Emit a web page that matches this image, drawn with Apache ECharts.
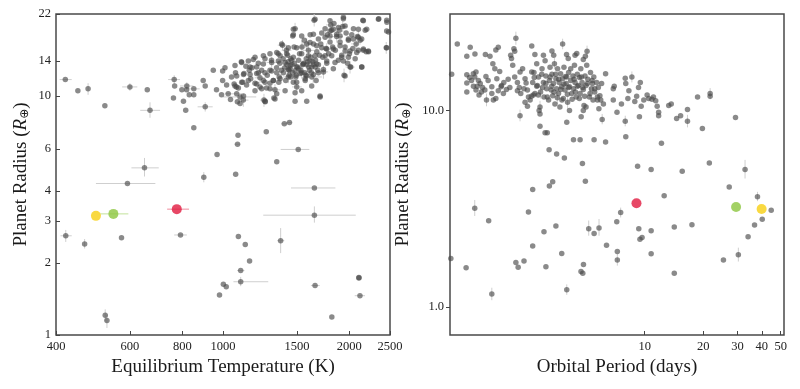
<!DOCTYPE html>
<html><head><meta charset="utf-8">
<script src="https://cdn.jsdelivr.net/npm/echarts@6/dist/echarts.min.js"></script>
<style>html,body{margin:0;padding:0;background:#fff}#c{width:800px;height:389px}</style>
</head><body><div id="c"></div>
<script>
// ---------- tick labels ----------
const leftXTicks = [400, 600, 800, 1000, 1500, 2000, 2500];
const leftYTicks = [1, 2, 3, 4, 6, 10, 14, 22];
const rightXTicks = [10, 20, 30, 40, 50];
const rightYTicks = [1, 10];

// ---------- left panel: [Teq (K), Radius (Re)] ----------
const leftPts = [
[421,11.7],[451,10.5],[477,10.7],[523,9.1],[600,10.9],[660,10.6],[670,8.7],
[765,11.7],[767,11.0],[762,9.8],[798,10.6],[805,9.5],[815,8.7],[820,11.0],[819,10.6],[831,10.1],[852,10.7],[852,10.1],[852,7.36],[897,11.6],[907,11.0],[907,9.0],
[948,12.8],[965,10.6],[998,12.7],[998,11.6],[1011,13.1],[1020,11.1],[1029,10.2],[1042,9.65],[1048,12.0],[1071,12.5],[1077,10.9],[1082,9.45],[1088,10.8],[1098,9.9],[1106,13.9],[1114,11.4],[1122,12.4],[1134,13.3],[1155,12.8],[1164,11.8],[1172,13.1],[1181,14.2],[1192,11.3],[1203,12.4],[1214,13.7],[1225,11.9],[1236,12.8],[1248,11.6],[1252,9.6],[1259,14.3],[1270,10.8],[1275,12.2],[1294,12.8],[1305,14.1],[1318,11.6],[1322,9.8],[1330,10.6],[1342,13.1],[1354,15.0],[1361,12.0],[1366,13.7],[1378,12.8],[1386,16.3],[1391,14.3],[1403,13.1],[1411,11.6],[1416,15.5],[1429,13.9],[1437,12.2],[1445,13.0],[1450,14.3],[1460,13.5],[1471,18.0],[1477,16.0],[1485,19.1],[1491,12.0],[1499,10.9],[1505,13.2],[1514,14.1],[1522,15.0],[1533,12.8],[1542,16.0],[1556,13.7],[1562,17.1],[1570,11.6],[1579,14.3],[1583,13.5],[1598,15.5],[1607,12.8],[1613,18.0],[1619,14.5],[1628,12.0],[1637,13.9],[1643,16.5],[1649,20.7],[1658,13.2],[1667,11.6],[1673,15.3],[1688,13.5],[1704,9.9],[1710,16.5],[1719,18.3],[1729,14.5],[1735,12.6],[1751,19.1],[1760,15.8],[1767,13.7],[1773,18.0],[1786,15.0],[1799,16.8],[1806,19.8],[1815,18.8],[1825,16.0],[1832,13.0],[1838,20.1],[1852,15.5],[1866,17.7],[1883,14.1],[1894,18.8],[1901,16.8],[1918,14.8],[1929,19.5],[1936,21.0],[1943,12.2],[1954,16.0],[1965,18.3],[1980,13.7],[1990,17.1],[2001,15.0],[2016,13.2],[2027,18.0],[2039,15.8],[2046,19.1],[2065,14.3],[2076,16.5],[2091,17.7],[2103,15.5],[2122,17.1],[2142,13.2],[2154,20.7],[2161,15.5],[2182,18.8],[2194,15.3],[2222,15.3],[2350,21.0],[2458,20.3],[2449,15.9],[2480,18.5],
[1420,13.5],[1437,12.8],[1457,14.1],[1466,12.5],[1479,13.7],[1494,12.2],[1514,13.0],[1527,12.4],[1547,13.5],[1565,12.5],[1576,12.2],[1592,13.9],[1601,13.2],[1622,12.5],[1643,13.5],[1661,14.1],[1682,12.8],[1698,14.8],[1426,14.8],[1450,12.0],[1471,11.4],[1358,11.4],[1294,11.3],[1225,10.9],[1138,11.1],[1063,11.2],[992,10.1],[1118,9.6],[1098,9.3],[1261,9.45],
[1657,20.9],[1799,20.6],[1936,21.3],[2160,20.6],[2346,20.9],[2455,20.7],[1832,19.0],[1884,19.3],[1954,19.6],[1799,18.7],[2102,19.0],[2200,19.0],[1471,19.0],[1466,17.8],[1540,17.8],[1642,18.1],[1688,17.3],[1751,17.6],[1799,17.8],[1866,18.1],[1901,17.8],[1990,17.3],[2045,17.3],[2102,17.6],[2140,17.3],[2455,18.7],[2455,15.9],
[1380,16.5],[1431,15.9],[1498,15.9],[1583,16.5],[1612,16.7],[1672,16.2],[1719,15.9],[1767,15.7],[1832,15.7],[1901,16.2],[1954,15.4],[2008,15.4],[2083,15.2],[2160,15.7],[2220,15.4],[1343,15.2],[1294,15.0],[1248,14.7],[1368,14.7],[1418,15.0],[1471,14.5],[1540,15.0],[1598,14.7],[1657,14.7],[1751,14.7],[1816,14.7],[1918,14.5],[1990,14.5],[1192,14.5],[1149,14.0],[1108,13.8],[1068,13.4],[1160,13.2],[1203,13.2],[1248,13.6],[1306,13.8],[1355,14.0],[1406,13.8],[1445,13.4],[1498,13.2],[1554,13.6],[1612,14.0],[1627,13.2],[1672,13.6],[1767,14.0],[1849,13.8],[1936,14.0],[2008,13.2],[2140,13.2],
[1078,12.1],[1119,12.3],[1160,12.3],[1214,12.5],[1259,12.5],[1306,12.7],[1343,12.5],[1393,12.5],[1431,12.9],[1485,12.7],[1540,12.5],[1583,12.1],[1642,12.3],[1688,12.5],[1735,12.9],[1954,12.1],[1068,11.0],[1108,11.4],[1149,11.6],[1203,11.2],[1259,11.4],[1318,11.6],[1368,11.8],[1431,12.0],[1498,11.4],[1569,11.8],[1627,11.0],[1078,10.2],[1119,10.0],[1192,10.5],[1236,10.7],[1294,10.7],[1343,10.2],[1406,10.5],[1485,10.3],[1540,10.5],[1703,10.0],[1259,9.5],[1330,9.7],[1485,9.5],[1583,9.5],
[968,5.69],[900,4.57],[1086,6.84],[1083,6.28],[1072,4.7],[1268,7.08],[1343,5.3],[1400,7.64],[1440,7.73],[1511,5.97],[1651,4.12],[1651,3.17],[592,4.3],[650,5.0],
[422,2.6],[468,2.4],[573,2.55],[792,2.62],[1088,2.58],[1130,2.39],[1157,2.04],[1102,1.86],[1102,1.67],[1002,1.63],[1018,1.59],[981,1.47],[1372,2.48],[1657,1.61],[1817,1.19],[2108,1.73],[2108,1.74],[2120,1.46],[524,1.21],[529,1.15]
];
// error bars: [T, R, Tlow, Thigh, Rlow, Rhigh]
const leftErr = [
[421,11.7,408,436,11.7,11.7],[477,10.7,477,477,10.1,11.3],[600,10.9,575,625,10.5,11.3],[670,8.7,635,708,8.1,9.4],
[592,4.3,498,690,4.3,4.3],[650,5.0,605,703,4.6,5.5],[1511,5.97,1372,1606,5.97,5.97],[1651,4.12,1452,1853,4.12,4.12],
[1651,3.17,1247,2072,2.95,3.45],[1372,2.48,1345,1400,2.2,2.8],[1102,1.67,1059,1282,1.6,1.75],[1657,1.61,1620,1700,1.61,1.61],
[2120,1.46,2060,2180,1.46,1.46],[524,1.21,524,524,1.14,1.28],[529,1.15,529,529,1.07,1.22],[422,2.6,410,436,2.45,2.75],
[468,2.4,468,468,2.3,2.52],[792,2.62,765,820,2.62,2.62],[1083,6.28,1065,1100,6.28,6.28],[900,4.57,900,900,4.35,4.8],
[1400,7.64,1375,1425,7.64,7.64],[1440,7.73,1418,1462,7.73,7.73],[1102,1.86,1080,1125,1.86,1.86],
[765,11.7,740,790,11.2,12.2],[852,10.7,825,880,10.7,10.7],[907,9.0,870,945,8.6,9.4],[1098,9.9,1000,1200,9.9,9.9],
[1118,9.6,1085,1150,9.0,10.2],[1252,9.6,1225,1280,9.0,10.2],[1499,10.9,1460,1540,10.4,11.5],[1704,9.9,1680,1730,9.9,9.9],
[1386,16.3,1350,1420,15.5,17.1],[1416,15.5,1380,1455,14.7,16.3],[1445,13.0,1380,1510,12.2,13.9],[1485,19.1,1460,1510,18.0,20.2],
[1542,16.0,1490,1600,15.0,17.0],[1598,15.5,1550,1650,14.6,16.5],[1649,20.7,1620,1680,19.5,22],[1735,12.6,1690,1780,11.8,13.4],
[1806,19.8,1760,1850,18.8,21],[1866,17.7,1800,1930,16.7,18.8],[1943,12.2,1943,1943,11.4,13.0],[1929,19.5,1880,1980,18.5,20.6],
[2076,16.5,2020,2130,15.6,17.4],[2449,15.9,2449,2449,15.0,16.8],[1330,10.6,1290,1370,10.0,11.2],[1225,11.9,1190,1260,11.3,12.5],
[1640,12,1560,1720,11.3,12.8],[1060,10.2,1010,1110,10.2,10.2],[820,11.0,790,850,10.6,11.4],
[1583,16.5,1540,1630,15.6,17.4],[1767,15.7,1720,1815,14.8,16.6],[1306,13.8,1270,1345,13.0,14.6],[2008,13.2,1960,2060,12.4,14.0],
[1540,12.5,1500,1580,11.8,13.3],[1954,15.4,1954,1954,14.5,16.4],[1431,12.0,1390,1470,11.3,12.7],[2102,17.6,2060,2150,16.6,18.6]
];
// highlighted planets (yellow, green, red)
const leftHighlights = [[498,3.15],[548,3.21],[776,3.36]];
const leftHighlightErr = [[498,3.15,498,498,3.15,3.15],[548,3.21,510,595,3.21,3.21],[776,3.36,736,830,3.36,3.36]];

// ---------- right panel: [Period (days), Radius (Re)] ----------
const rightPts = [
[1.02,15.3],[1.09,21.8],[1.27,21.0],[1.22,18.9],[1.22,15.2],[1.22,13.8],[1.22,12.4],
[2.18,23.3],[2.63,21.3],[3.79,21.8],[5.06,20.0],[4.96,18.9],
[1.343,19.4],[1.52,19.3],[1.605,18.9],[1.72,20.3],[1.77,21.0],[2.05,19.1],[2.13,20.6],[2.15,20.0],[2.73,19.3],[3.02,19.1],[3.34,20.1],[3.41,19.1],[3.97,19.3],[4.05,18.4],[4.39,19.1],[4.48,19.5],[4.84,18.2],
[1.318,15.4],[1.36,15.7],[1.34,14.8],[1.40,14.2],[1.43,13.7],[1.47,13.1],[1.51,12.7],[1.53,14.9],[1.57,14.2],[1.64,13.2],[1.66,17.3],[1.70,16.3],[1.74,14.5],[1.80,15.8],[1.84,13.4],[1.89,13.9],[1.95,12.8],[2.03,13.1],[2.07,18.4],[2.10,17.0],[2.15,14.8],[2.22,13.9],[2.27,13.1],[2.31,12.2],[2.36,16.3],[2.43,14.5],[2.50,12.7],[2.53,11.7],[2.58,11.3],[2.66,13.9],[2.70,15.6],[2.73,12.2],[2.79,17.3],[2.81,13.4],[2.85,14.8],[2.90,10.4],[2.92,12.4],[2.97,16.3],[3.02,13.9],[3.04,11.7],[3.08,17.9],[3.11,15.0],[3.14,12.9],[3.21,11.3],[3.24,14.2],[3.265,16.6],[3.31,12.7],[3.34,15.3],[3.37,11.9],[3.40,13.7],[3.44,17.3],[3.46,10.8],[3.50,14.5],[3.53,12.9],[3.57,16.3],[3.61,12.2],[3.64,13.9],[3.67,10.4],[3.70,15.4],[3.75,13.2],[3.79,14.5],[3.82,11.5],[3.85,16.6],[3.90,12.7],[3.95,13.7],[3.98,14.8],[4.02,11.0],[4.07,15.6],[4.11,13.2],[4.17,14.2],[4.22,12.2],[4.28,15.0],[4.31,12.9],[4.36,17.0],[4.39,13.9],[4.45,11.7],[4.51,15.3],[4.57,13.4],[4.63,14.7],[4.66,12.2],[4.70,16.3],[4.77,13.9],[4.84,12.8],[4.88,10.6],[4.94,15.0],[5.00,13.4],[5.04,17.0],[5.11,14.4],[5.20,11.7],[5.27,15.6],[5.33,12.9],[5.39,13.7],[5.43,11.3],[5.48,14.8],[5.54,12.4],[5.67,13.9],[5.72,11.7],[5.78,13.1],[5.82,10.2],[5.89,11.9],[5.95,11.3],[6.01,13.7],[6.14,10.8],[6.3,15.4],[6.9,12.9],[6.98,13.3],
[1.26,14.7],[1.29,14.2],[1.32,13.3],[1.36,12.7],[1.38,13.3],[1.41,12.0],[1.45,12.4],[1.54,11.3],[1.64,12.2],[1.67,11.3],[1.72,11.5],[1.77,12.6],[1.83,13.2],
[2.63,15.7],[2.71,14.7],[2.79,13.3],[2.84,12.0],[2.96,15.3],[2.99,13.1],[3.11,13.7],[3.16,11.7],[3.27,14.8],[3.33,13.3],[3.42,12.4],[3.49,15.3],[3.56,11.6],[3.62,14.4],[3.71,12.8],[3.76,11.3],[3.85,13.6],[3.92,14.9],[4.01,12.1],[4.07,13.1],[4.17,16.3],[4.24,11.4],[4.34,14.4],[4.41,12.4],[4.51,13.3],[4.62,11.5],[4.73,14.8],[4.81,13.1],[4.92,11.8],[5.08,13.7],[5.24,12.2],[5.37,14.2],[5.54,12.9],[5.72,11.3],[2.29,15.7],[2.40,12.9],[2.46,13.8],[2.22,12.6],[1.99,14.4],[1.88,12.2],
[2.29,9.4],[2.43,11.0],[2.50,10.5],[2.62,11.8],[2.68,12.0],[2.87,10.0],[2.90,9.6],[2.90,8.3],[3.08,7.7],[3.16,7.7],[3.23,6.3],[3.53,6.0],[3.87,5.72],[3.98,8.7],[4.11,10.0],[4.31,7.1],[4.66,7.1],[4.79,5.37],[4.72,9.3],[4.84,10.0],[5.00,10.4],[5.5,7.1],[6.05,9.0],[6.3,6.9],[6.9,11.3],[7.21,9.8],[7.6,10.8],[7.95,14.6],[8.0,13.7],[7.95,8.8],[8.0,7.34],[8.2,11.5],[8.3,12.6],[8.6,14.8],[8.9,11.1],[9.1,11.8],[9.3,13.1],[9.4,9.3],[9.5,13.9],[9.6,10.5],[9.9,11.3],[10.3,12.0],[10.5,11.5],[10.9,11.4],[11.1,11.7],[11.4,11.2],[11.6,10.5],[11.8,9.8],[11.8,9.4],[12.2,6.8],[13.3,10.6],[13.7,10.8],[14.6,9.1],[15.3,9.4],[16.6,10.1],[16.6,8.8],[18.7,11.7],[19.8,8.1],[21.7,11.8],[21.7,12.2],[29.3,9.2],[32.8,5.0],[21.5,5.4],[15.6,4.9],[10.8,5.0],[9.2,5.2],
[3.37,4.33],[3.24,4.12],[4.96,4.36],[2.66,3.96],[1.34,3.18],[2.53,3.04],[1.58,2.74],[2.66,2.04],[2.18,1.68],[2.24,1.59],[2.40,1.71],[3.04,2.41],[3.50,2.58],[3.11,1.60],[3.75,1.87],[3.98,1.22],[1.01,1.76],[1.21,1.58],[1.64,1.16],[4.71,1.51],[4.81,1.48],[4.85,1.64],[5.16,2.50],[5.50,2.36],[5.83,2.52],[6.37,2.06],[7.24,1.91],[7.24,1.73],[7.19,2.71],[7.53,3.02],[9.33,2.50],[9.46,2.21],[9.7,2.25],[10.8,2.44],[10.8,1.86],[12.6,3.68],[14.2,2.55],[14.2,1.48],[17.5,2.62],[25.4,1.73],[27.2,4.07],[30.3,1.84],[34.0,2.27],[36.7,2.61],[38.0,3.63],[40.2,2.79],[44.7,3.10]
];
const rightErr = [
[1.34,3.18,1.34,1.34,2.9,3.5],[1.64,1.16,1.64,1.64,1.08,1.25],[3.98,1.22,3.98,3.98,1.15,1.3],[30.3,1.84,30.3,30.3,1.7,2.0],
[32.8,5.0,32.8,32.8,4.5,5.6],[38.0,3.63,38.0,38.0,3.45,3.85],[2.29,9.4,2.29,2.29,8.8,10.1],[2.18,23.3,2.18,2.18,21.6,25.2],
[7.24,1.73,7.24,7.24,1.62,1.86],[5.16,2.50,5.16,5.16,2.3,2.75],[5.83,2.52,5.83,5.83,2.3,2.8],[7.95,8.8,7.95,7.95,8.3,9.4],
[1.54,11.3,1.54,1.54,10.5,12.2],[2.90,10.4,2.90,2.90,9.7,11.2],[3.79,21.8,3.79,3.79,20.5,23.2],[5.06,20.0,5.06,5.06,18.8,21.4],
[3.44,17.3,3.44,3.44,16.2,18.5],[8.6,14.8,8.6,8.6,13.9,15.8],[16.6,8.8,16.6,16.6,8.2,9.5],[21.7,12.2,21.7,21.7,11.4,13.0],
[2.92,12.4,2.92,2.92,11.5,13.3],[7.53,3.02,7.53,7.53,2.85,3.2],[4.02,11.0,4.02,4.02,10.2,11.8],[6.05,9.0,6.05,6.05,8.5,9.6],
[4.34,14.4,4.34,4.34,13.5,15.4],[3.56,11.6,3.56,3.56,10.8,12.5],[5.24,12.2,5.24,5.24,11.4,13.1]
];
const rightHighlights = [[39.9,3.15],[29.5,3.22],[9.08,3.37]];

const highlightColors = ['#f7cf12', '#8cc63e', '#e11a40'];
const highlightErrColors = ['#f7e07a', '#c3e29a', '#f08a9c'];

// ---------- build chart ----------
const FONT = 'Liberation Serif';
function errRender(colors) {
  return function (params, api) {
    const x = api.value(0), y = api.value(1);
    const xlo = api.value(2), xhi = api.value(3), ylo = api.value(4), yhi = api.value(5);
    const stroke = colors ? colors[params.dataIndex] : '#cfcfcf';
    const ch = [];
    if (xlo !== xhi) {
      const a = api.coord([xlo, y]), b = api.coord([xhi, y]);
      ch.push({type: 'line', shape: {x1: a[0], y1: a[1], x2: b[0], y2: b[1]}, style: {stroke, lineWidth: 1}});
    }
    if (ylo !== yhi) {
      const a = api.coord([x, ylo]), b = api.coord([x, yhi]);
      ch.push({type: 'line', shape: {x1: a[0], y1: a[1], x2: b[0], y2: b[1]}, style: {stroke, lineWidth: 1}});
    }
    return {type: 'group', children: ch};
  };
}
const yName = 'Planet Radius ({i|R}{s|⊕})';
const nameStyle = {
  fontFamily: FONT, fontSize: 19, color: '#1a1a1a',
  rich: {i: {fontFamily: FONT, fontSize: 19, fontStyle: 'italic', color: '#1a1a1a'},
         s: {fontFamily: 'DejaVu Sans', fontSize: 12, color: '#1a1a1a', padding: [8, 0, 0, 0]}}
};
const tickLab = {fontFamily: FONT, fontSize: 12.5, color: '#222'};

function xAxis(gi, min, max, ticks, name, fmt) {
  return {
    type: 'log', logBase: 10, gridIndex: gi, min, max,
    name, nameLocation: 'middle', nameGap: 22,
    nameTextStyle: {fontFamily: FONT, fontSize: 19, color: '#1a1a1a'},
    axisLine: {show: false},
    axisTick: {show: true, inside: true, length: 4, customValues: ticks, lineStyle: {color: '#444'}},
    axisLabel: Object.assign({customValues: ticks, margin: 5, formatter: fmt || (v => String(Math.round(v)))}, tickLab),
    splitLine: {show: false}, minorTick: {show: false}
  };
}
function yAxis(gi, min, max, ticks, fmt, inside, gap) {
  return {
    type: 'log', logBase: 10, gridIndex: gi, min, max,
    name: yName, nameLocation: 'middle', nameGap: gap, nameRotate: 90,
    nameTextStyle: nameStyle,
    axisLine: {show: false},
    axisTick: {show: true, inside, length: 4, customValues: ticks, lineStyle: {color: '#444'}},
    axisLabel: Object.assign({customValues: ticks, margin: inside ? 5 : 6, formatter: fmt || (v => String(Math.round(v)))}, tickLab),
    splitLine: {show: false}, minorTick: {show: false}
  };
}
const ptStyle = {color: 'rgba(72,72,72,0.8)'};
const option = {
  animation: false,
  backgroundColor: '#fff',
  grid: [
    {left: 56, top: 14, width: 334, height: 321, show: true, borderColor: '#4a4a4a', borderWidth: 1.5},
    {left: 450, top: 14, width: 334, height: 321, show: true, borderColor: '#4a4a4a', borderWidth: 1.5}
  ],
  xAxis: [
    xAxis(0, 400, 2500, leftXTicks, 'Equilibrium Temperature (K)'),
    xAxis(1, 1, 52, rightXTicks, 'Orbital Period (days)')
  ],
  yAxis: [
    yAxis(0, 1, 22, leftYTicks, null, true, 25),
    yAxis(1, 0.718, 31, rightYTicks, v => v.toFixed(1), false, 37)
  ],
  series: [
    {type: 'custom', xAxisIndex: 0, yAxisIndex: 0, data: leftErr, renderItem: errRender(null), z: 1, silent: true},
    {type: 'scatter', xAxisIndex: 0, yAxisIndex: 0, data: leftPts, symbolSize: 5.5, itemStyle: ptStyle, z: 2},
    {type: 'custom', xAxisIndex: 0, yAxisIndex: 0, data: leftHighlightErr, renderItem: errRender(highlightErrColors), z: 3, silent: true},
    {type: 'custom', xAxisIndex: 1, yAxisIndex: 1, data: rightErr, renderItem: errRender(null), z: 1, silent: true},
    {type: 'scatter', xAxisIndex: 1, yAxisIndex: 1, data: rightPts, symbolSize: 5.5, itemStyle: ptStyle, z: 2}
  ]
};
leftHighlights.forEach((p, i) => option.series.push({type: 'scatter', xAxisIndex: 0, yAxisIndex: 0, data: [p], symbolSize: 10, itemStyle: {color: highlightColors[i]}, z: 4}));
rightHighlights.forEach((p, i) => option.series.push({type: 'scatter', xAxisIndex: 1, yAxisIndex: 1, data: [p], symbolSize: 10, itemStyle: {color: highlightColors[i]}, z: 4}));

const chart = echarts.init(document.getElementById('c'), null, {renderer: 'canvas'});
chart.setOption(option);
</script>
</body></html>
